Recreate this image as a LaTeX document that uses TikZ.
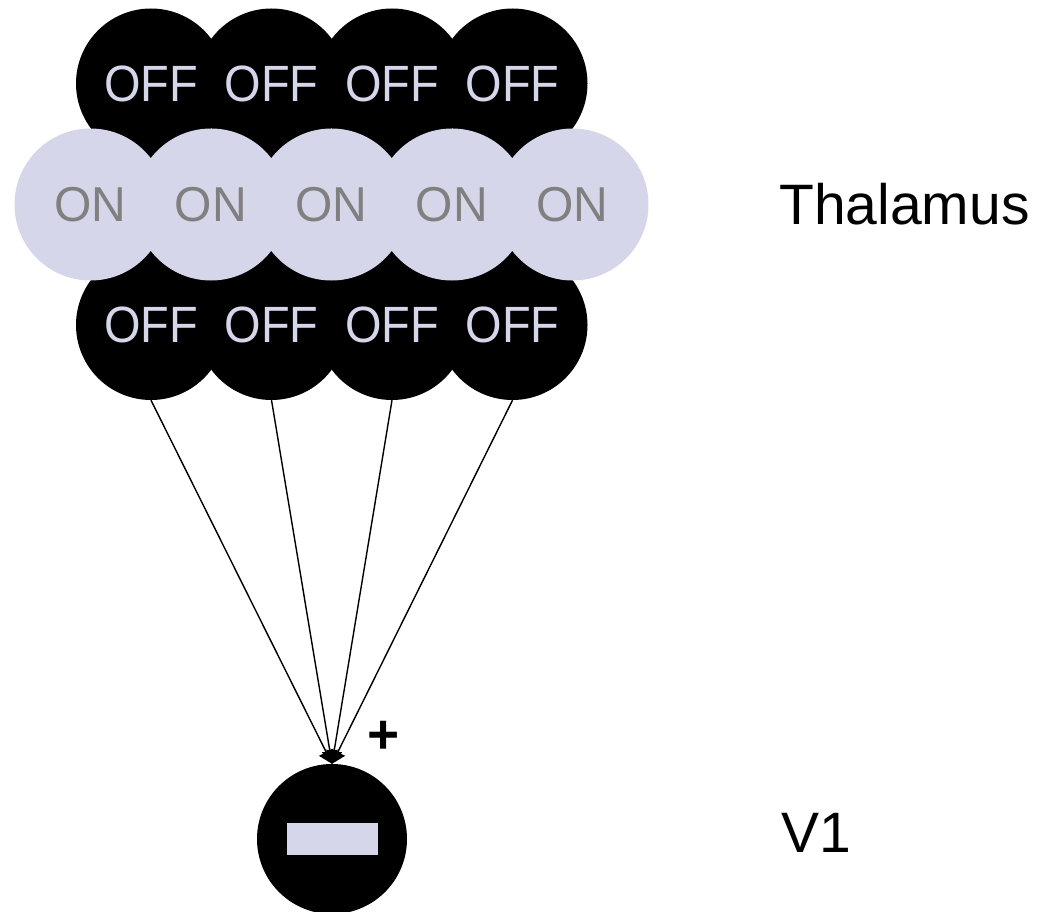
\documentclass[tikz,border=0pt]{standalone}
\usepackage{fontspec}
\setmainfont{Liberation Sans}
\usetikzlibrary{arrows.meta}
\definecolor{lav}{RGB}{214,214,234}
\definecolor{ongray}{RGB}{128,128,128}
\newcommand{\offtxt}{\scalebox{0.92}[1]{\fontsize{51}{60}\selectfont OFF}}
\newcommand{\ontxt}{\scalebox{0.98}[1]{\fontsize{49}{58}\selectfont ON}}
\begin{document}
\begin{tikzpicture}[x=1pt,y=-1pt,
  offcell/.style={circle,fill=black,minimum size=150pt,inner sep=0pt,text=lav},
  oncell/.style={circle,fill=lav,minimum size=152pt,inner sep=0pt,text=ongray},
  link/.style={line width=1.4pt,-{Triangle[length=13pt,width=16pt]}},
  biglabel/.style={font=\fontsize{57}{66}\selectfont,text=black,inner sep=0pt}]
\useasboundingbox (0,0) rectangle (1039,912);
% top OFF row
\node[offcell] (t1) at (151,83.5) {\offtxt};
\node[offcell] (t2) at (271.5,83.5) {\offtxt};
\node[offcell] (t3) at (392,83.5) {\offtxt};
\node[offcell] (t4) at (512.5,83.5) {\offtxt};
% bottom OFF row
\node[offcell] (b1) at (151,325) {\offtxt};
\node[offcell] (b2) at (271.5,325) {\offtxt};
\node[offcell] (b3) at (392,325) {\offtxt};
\node[offcell] (b4) at (512.5,325) {\offtxt};
% ON row
\node[oncell] (o1) at (90.5,204.5) {\ontxt};
\node[oncell] (o2) at (211,204.5) {\ontxt};
\node[oncell] (o3) at (331.5,204.5) {\ontxt};
\node[oncell] (o4) at (452,204.5) {\ontxt};
\node[oncell] (o5) at (572.5,204.5) {\ontxt};
% V1 neuron
\node[circle,fill=black,minimum size=150pt,inner sep=0pt] (v1) at (332,839) {};
\node[fill=lav,minimum width=91pt,minimum height=32pt,inner sep=0pt] (bar) at (v1.center) {};
% connections
\draw[link] (b1.south) -- (v1.north);
\draw[link] (b2.south) -- (v1.north);
\draw[link] (b3.south) -- (v1.north);
\draw[link] (b4.south) -- (v1.north);
% labels
\node[biglabel,font=\fontsize{55}{64}\selectfont\bfseries] (plus) at (384,737) {+};
\node[biglabel] (thal) at (904.5,204.5) {Thalamus};
\node[biglabel] (v1lab) at (816,832.5) {V1};
\end{tikzpicture}
\end{document}
